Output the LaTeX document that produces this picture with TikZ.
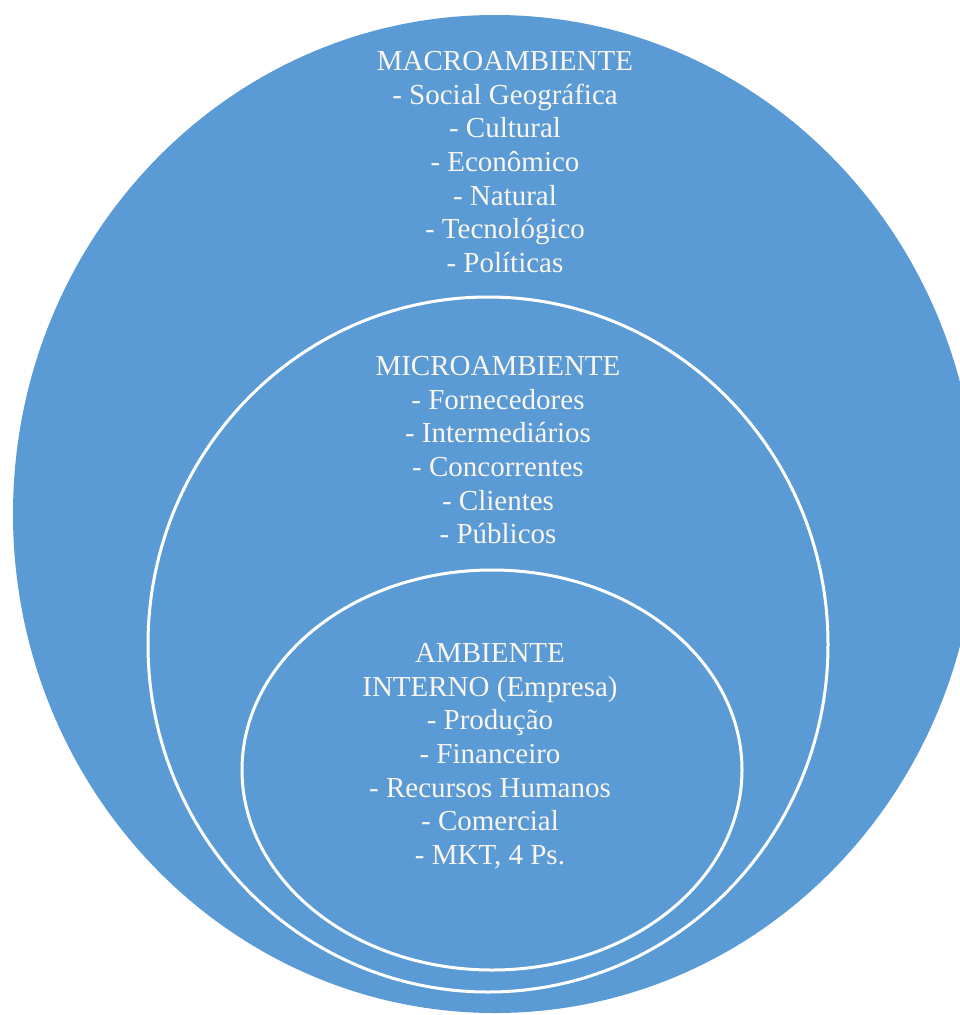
\documentclass[tikz,border=0pt]{standalone}
\usepackage{fontspec}
\setmainfont{Liberation Serif}
\usetikzlibrary{shapes.geometric}
\definecolor{ringblue}{HTML}{5B9BD5}
\definecolor{txt}{HTML}{FAF6EE}
\tikzset{
  ring/.style={ellipse, inner sep=0pt, draw=white, line width=3pt},
  label/.style={text=txt, align=center, inner sep=0pt, anchor=north,
    font=\fontsize{29}{33.7}\selectfont}
}
\begin{document}
\begin{tikzpicture}[x=1pt,y=-1pt]
\useasboundingbox (0,0) rectangle (960,1015);
\clip (0,0) rectangle (960,1015);
\node[ellipse, inner sep=0pt, fill=ringblue, minimum width=964pt, minimum height=998pt] (outer) at (495,514) {};
\node[ring, minimum width=680pt, minimum height=695pt] (middle) at (488,644.5) {};
\node[ring, minimum width=500pt, minimum height=400pt] (inner) at (492,770) {};
\node[label] (macro) at (505,51) {MACROAMBIENTE\\- Social Geográfica\\- Cultural\\- Econômico\\- Natural\\- Tecnológico\\- Políticas};
\node[label] (micro) at (498,356) {MICROAMBIENTE\\- Fornecedores\\- Intermediários\\- Concorrentes\\- Clientes\\- Públicos};
\node[label] (interno) at (490,643) {AMBIENTE\\INTERNO (Empresa)\\- Produção\\- Financeiro\\- Recursos Humanos\\- Comercial\\- MKT, 4 Ps.};
\end{tikzpicture}
\end{document}
